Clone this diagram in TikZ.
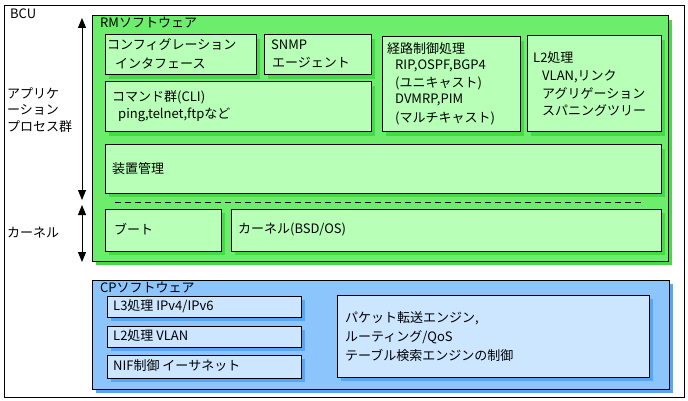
\documentclass[tikz,border=0pt]{standalone}
\usepackage{fontspec}
\setmainfont{Noto Sans CJK JP}
\usetikzlibrary{fit,shadows,arrows.meta}
\definecolor{gfill}{HTML}{6CEE6C}
\definecolor{gshade}{HTML}{48D848}
\definecolor{gin}{HTML}{B8FFB8}
\definecolor{bfill}{HTML}{8CC4FC}
\definecolor{bshade}{HTML}{5AA4F4}
\definecolor{bin}{HTML}{CCE6FF}
\tikzset{
  frame/.style={draw=black, line width=1pt, inner sep=0pt, fill=white},
  gbox/.style={draw=black, line width=1pt, inner sep=0pt, fill=gfill,
    drop shadow={fill=gshade, shadow xshift=4pt, shadow yshift=-4pt, opacity=1}},
  gsub/.style={draw=black, line width=1pt, inner sep=0pt, fill=gin,
    drop shadow={fill=gshade, shadow xshift=4pt, shadow yshift=-4pt, opacity=1}},
  bbox/.style={draw=black, line width=1pt, inner sep=0pt, fill=bfill,
    drop shadow={fill=bshade, shadow xshift=4pt, shadow yshift=-4pt, opacity=1}},
  bsub/.style={draw=black, line width=1pt, inner sep=0pt, fill=bin,
    drop shadow={fill=bshade, shadow xshift=4pt, shadow yshift=-4pt, opacity=1}},
  txt/.style={anchor=west, inner sep=0pt, font=\fontsize{13}{16}\selectfont},
  dbl/.style={line width=1pt, {Triangle[length=10pt,width=8pt]}-{Triangle[length=10pt,width=8pt]}},
}
\begin{document}
\begin{tikzpicture}[x=1pt,y=-1pt]
\useasboundingbox (0,0) rectangle (688,401);
% BCU frame
\node[frame, fit={(4,6) (684,397)}] (bcu) {};
\node[txt] (bcut) at (10,14) {BCU};
% RM software
\node[gbox, fit={(92,16) (668,261)}] (rm) {};
\node[txt] (rmt) at (100,23) {RMソフトウェア};
\node[gsub, fit={(105,35) (256,75)}] (cfg) {};
\node[gsub, fit={(264,35) (371,75)}] (snmp) {};
\node[gsub, fit={(382,37) (520,132)}] (route) {};
\node[gsub, fit={(527,36) (661,132)}] (ltwo) {};
\node[gsub, fit={(105,82) (371,132)}] (cli) {};
\node[gsub, fit={(105,145) (661,193)}] (dev) {};
\node[gsub, fit={(105,209) (221,251)}] (boot) {};
\node[gsub, fit={(231,209) (661,251)}] (kern) {};
\node[txt] at (107,45) {コンフィグレーション};
\node[txt] at (115,63) {インタフェース};
\node[txt] at (271,45) {SNMP};
\node[txt] at (272,63) {エージェント};
\node[txt] at (387,49) {経路制御処理};
\node[txt] at (395,66) {RIP,OSPF,BGP4};
\node[txt] at (395,83) {(ユニキャスト)};
\node[txt] at (395,100) {DVMRP,PIM};
\node[txt] at (395,118) {(マルチキャスト)};
\node[txt] at (533,58) {L2処理};
\node[txt] at (542,76) {VLAN,リンク};
\node[txt] at (542,93) {アグリゲーション};
\node[txt] at (542,110) {スパニングツリー};
\node[txt] at (112,97) {コマンド群(CLI)};
\node[txt] at (118,115) {ping,telnet,ftpなど};
\node[txt] at (112,169) {装置管理};
\node[txt] at (114,229) {ブート};
\node[txt] at (238,229) {カーネル(BSD/OS)};
\coordinate (dl) at (115,202);
\coordinate (dr) at (643,202);
\draw[line width=1pt, dash pattern=on 6pt off 4pt] (dl) -- (dr);
% left labels and arrows
\node[txt] at (7,93) {アプリケ};
\node[txt] at (7,110) {ーション};
\node[txt] at (7,127) {プロセス群};
\node[txt] at (7,233) {カーネル};
\coordinate (a1t) at (82,18);
\coordinate (a1b) at (82,200);
\coordinate (a2t) at (82,205);
\coordinate (a2b) at (82,262);
\draw[dbl] (a1t) -- (a1b);
\draw[dbl] (a2t) -- (a2b);
% CP software
\node[bbox, fit={(92,280) (669,389)}] (cp) {};
\node[txt] at (100,288) {CPソフトウェア};
\node[bsub, fit={(107,296) (301,317)}] (lthree) {};
\node[bsub, fit={(107,326) (301,347)}] (ltwob) {};
\node[bsub, fit={(107,355) (301,378)}] (nif) {};
\node[bsub, fit={(337,295) (649,377)}] (pkt) {};
\node[txt] at (113,306) {L3処理 IPv4/IPv6};
\node[txt] at (113,336) {L2処理 VLAN};
\node[txt] at (113,366) {NIF制御 イーサネット};
\node[txt] at (345,318) {パケット転送エンジン,};
\node[txt] at (345,337) {ルーティング/QoS};
\node[txt] at (345,355) {テーブル検索エンジンの制御};
\end{tikzpicture}
\end{document}
